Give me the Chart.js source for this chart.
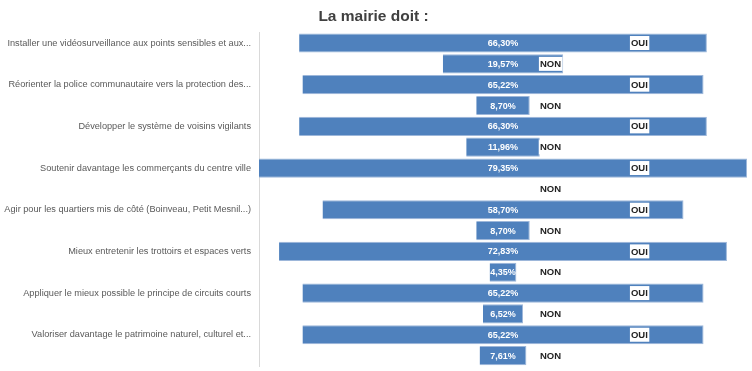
<!DOCTYPE html>
<html><head><meta charset="utf-8">
<script src="https://cdn.jsdelivr.net/npm/chart.js@4/dist/chart.umd.min.js"></script>
<style>html,body{margin:0;padding:0;background:#fff}</style>
</head><body>
<canvas id="c" width="752" height="371"></canvas>
<script>
const chartTitle = "La mairie doit :";
const categories = [
  "Installer une vidéosurveillance aux points sensibles et aux...",
  "Réorienter la police communautaire vers la protection des...",
  "Développer le système de voisins vigilants",
  "Soutenir davantage les commerçants du centre ville",
  "Agir pour les quartiers mis de côté (Boinveau, Petit Mesnil...)",
  "Mieux entretenir les trottoirs et espaces verts",
  "Appliquer le mieux possible le principe de circuits courts",
  "Valoriser davantage le patrimoine naturel, culturel et..."
];
const seriesNames = ["OUI", "NON"];
const ouiValues = [66.30, 65.22, 66.30, 79.35, 58.70, 72.83, 65.22, 65.22];
const nonValues = [19.57, 8.70, 11.96, 0, 8.70, 4.35, 6.52, 7.61];
const axisMax = 79.35;

// build rows: one OUI row (with category label) then one NON row
const rowLabels = [], rowValues = [], rowNames = [];
categories.forEach((c, i) => {
  rowLabels.push(c); rowValues.push(ouiValues[i]); rowNames.push(seriesNames[0]);
  rowLabels.push(""); rowValues.push(nonValues[i]); rowNames.push(seriesNames[1]);
});
const mid = axisMax / 2;
const floating = rowValues.map(v => [mid - v / 2, mid + v / 2]);
// label anchor offsets (in axis units from the centre)
const nameOffset = { OUI: 20.8, NON: 6.0 };

const labelPlugin = {
  id: 'barLabels',
  afterDatasetsDraw(chart) {
    const ctx = chart.ctx;
    const xs = chart.scales.x;
    const meta = chart.getDatasetMeta(0);
    ctx.save();
    meta.data.forEach((bar, i) => {
      const v = rowValues[i];
      const y = bar.y;
      if (v > 0) {
        ctx.font = "bold 9px 'Liberation Sans', Arial, sans-serif";
        ctx.fillStyle = '#ffffff';
        ctx.textAlign = 'center';
        ctx.textBaseline = 'middle';
        ctx.fillText(v.toFixed(2).replace('.', ',') + '%', xs.getPixelForValue(mid), y + 0.5);
      }
      const name = rowNames[i];
      ctx.font = "bold 9.5px 'Liberation Sans', Arial, sans-serif";
      const w = ctx.measureText(name).width;
      const lx = xs.getPixelForValue(mid + nameOffset[name]);
      ctx.fillStyle = '#ffffff';
      ctx.fillRect(lx - 1, y - 7, w + 2.5, 14);
      ctx.fillStyle = '#222222';
      ctx.textAlign = 'left';
      ctx.textBaseline = 'middle';
      ctx.fillText(name, lx, y + 0.5);
    });
    ctx.restore();
  }
};

new Chart(document.getElementById('c'), {
  type: 'bar',
  data: {
    labels: rowLabels,
    datasets: [{
      data: floating,
      backgroundColor: '#4F81BD',
      borderColor: '#9db7da',
      borderWidth: rowValues.map(v => v > 0 ? 1 : 0),
      barPercentage: 0.92,
      categoryPercentage: 1.0
    }]
  },
  options: {
    indexAxis: 'y',
    responsive: false,
    animation: false,
    devicePixelRatio: 1,
    layout: { padding: { left: 0, right: 5, top: 0, bottom: 5 } },
    plugins: {
      legend: { display: false },
      tooltip: { enabled: false },
      title: {
        display: true,
        text: chartTitle,
        color: '#404040',
        font: { family: "'Liberation Sans', Arial, sans-serif", size: 15.5, weight: 'bold' },
        padding: { top: 7, bottom: 7 }
      }
    },
    scales: {
      x: { display: false, min: 0, max: axisMax },
      y: {
        grid: { display: false, drawTicks: false },
        border: { display: true, color: '#d9d9d9', width: 1 },
        ticks: {
          autoSkip: false,
          color: '#595959',
          padding: 8,
          font: { family: "'Liberation Sans', Arial, sans-serif", size: 9.2 }
        },
        afterFit(scale) {
          scale.width = 259;
          scale.paddingTop = 0;
          scale.paddingBottom = 0;
        }
      }
    }
  },
  plugins: [labelPlugin]
});
</script>
</body></html>
